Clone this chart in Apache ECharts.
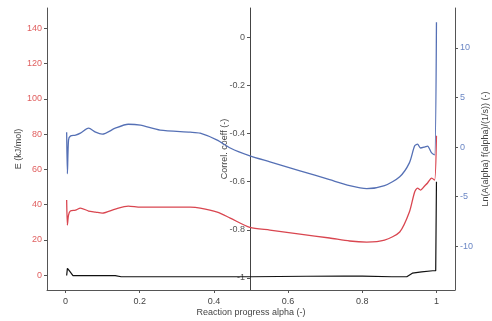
<!DOCTYPE html>
<html>
<head>
<meta charset="utf-8">
<script src="https://cdn.jsdelivr.net/npm/echarts@6/dist/echarts.min.js"></script>
<style>html,body{margin:0;padding:0;background:#fff}#c{width:492px;height:321px}</style>
</head>
<body>
<div id="c"></div>
<script>
// Shared x positions (reaction progress alpha) for E and Ln(A f) curves
const alpha = [0.003,0.005,0.008,0.013,0.027,0.040,0.062,0.081,0.099,0.134,0.169,0.202,0.255,0.336,0.363,0.409,0.444,0.497,0.551,0.632,0.712,0.766,0.812,0.860,0.901,0.927,0.941,0.949,0.957,0.968,0.976,0.987,0.995,1.0];
// E (kJ/mol) - red, left axis
const eVals = [42.5,28.3,34,36.3,36.8,38,36.3,35.7,35.1,37.4,39.1,38.5,38.5,38.5,38,35.7,32.3,27,25.5,23.2,21,19.3,18.7,19.8,24.4,35.7,47,49.3,48.2,50.5,52.2,55,53.9,79];
// Ln(A f) - blue, right axis
const lnVals = [1.5,-2.7,0.7,1.1,1.2,1.4,1.9,1.5,1.3,1.9,2.3,2.2,1.7,1.5,1.4,0.7,-0.1,-0.9,-1.5,-2.4,-3.3,-3.9,-4.2,-3.9,-3.0,-1.6,0.1,0.3,-0.1,0.0,0.1,-0.6,-0.8,12.6];
// Correlation coefficient - black, middle axis
const alphaCorr = [0.003,0.005,0.010,0.020,0.05,0.134,0.15,0.3,0.5,0.65,0.75,0.8,0.88,0.92,0.935,0.96,0.99,0.998,1.0];
const corrVals = [-0.99,-0.96,-0.97,-0.99,-0.99,-0.99,-0.995,-0.995,-0.995,-0.993,-0.992,-0.992,-0.995,-0.995,-0.98,-0.975,-0.97,-0.97,-0.6];
// Tick labels
const xTicks = [0,0.2,0.4,0.6,0.8,1];
const eTicks = [0,20,40,60,80,100,120,140];
const corrTicks = [-1,-0.8,-0.6,-0.4,-0.2,0];
const lnTicks = [-10,-5,0,5,10];

const pair = (xs, ys) => xs.map((x,i)=>[x, ys[i]]);
const axisLineStyle = {show:true, onZero:false, lineStyle:{color:'#555', width:1}};
const font = 'Liberation Sans';
const chart = echarts.init(document.getElementById('c'));
chart.setOption({
  animation:false,
  grid:{left:47,right:37,top:8,bottom:31, containLabel:false, outerBoundsMode:'none'},
  xAxis:{type:'value', min:-0.05, max:1.05,
    axisLine:axisLineStyle, splitLine:{show:false},
    axisTick:{show:true, customValues:xTicks, length:3, lineStyle:{color:'#555'}},
    axisLabel:{customValues:xTicks, color:'#444', fontSize:9, fontFamily:font, margin:7},
    name:'Reaction progress alpha (-)', nameLocation:'middle', nameGap:18, nameMoveOverlap:false,
    nameTextStyle:{color:'#444', fontSize:9, fontFamily:font}},
  yAxis:[
    {type:'value', position:'left', min:-8.5, max:151.5,
      axisLine:axisLineStyle, splitLine:{show:false},
      axisTick:{show:true, customValues:eTicks, length:3, lineStyle:{color:'#555'}},
      axisLabel:{customValues:eTicks, color:'#e06060', fontSize:9, fontFamily:font, margin:5},
      name:'E (kJ/mol)', nameLocation:'middle', nameGap:24, nameRotate:90, nameMoveOverlap:false,
      nameTextStyle:{color:'#444', fontSize:9, fontFamily:font}},
    {type:'value', position:'left', offset:-203, min:-1.05, max:0.121,
      axisLine:{show:true, onZero:false, lineStyle:{color:'#444', width:1}}, splitLine:{show:false},
      axisTick:{show:true, customValues:corrTicks, length:3, lineStyle:{color:'#555'}},
      axisLabel:{customValues:corrTicks, color:'#555', fontSize:9, fontFamily:font, margin:5},
      name:'Correl. coeff (-)', nameLocation:'middle', nameGap:21, nameRotate:90, nameMoveOverlap:false,
      nameTextStyle:{color:'#444', fontSize:9, fontFamily:font}},
    {type:'value', position:'right', min:-14.44, max:14.04,
      axisLine:axisLineStyle, splitLine:{show:false},
      axisTick:{show:true, customValues:lnTicks, length:3, lineStyle:{color:'#555'}},
      axisLabel:{customValues:lnTicks, color:'#6a86c4', fontSize:9, fontFamily:font, margin:5},
      name:'Ln(A(alpha) f(alpha)/(1/s)) (-)', nameLocation:'middle', nameGap:26, nameRotate:90, nameMoveOverlap:false,
      nameTextStyle:{color:'#444', fontSize:9, fontFamily:font}}
  ],
  series:[
    {type:'line', name:'corr', xAxisIndex:0, yAxisIndex:1, data:pair(alphaCorr, corrVals), showSymbol:false,
      lineStyle:{color:'#111', width:1.2}},
    {type:'line', name:'E', xAxisIndex:0, yAxisIndex:0, data:pair(alpha, eVals), showSymbol:false, smooth:0.25,
      lineStyle:{color:'#d94650', width:1.3}},
    {type:'line', name:'lnA', xAxisIndex:0, yAxisIndex:2, data:pair(alpha, lnVals), showSymbol:false, smooth:0.25,
      lineStyle:{color:'#5570b5', width:1.3}}
  ]
});
</script>
</body>
</html>
